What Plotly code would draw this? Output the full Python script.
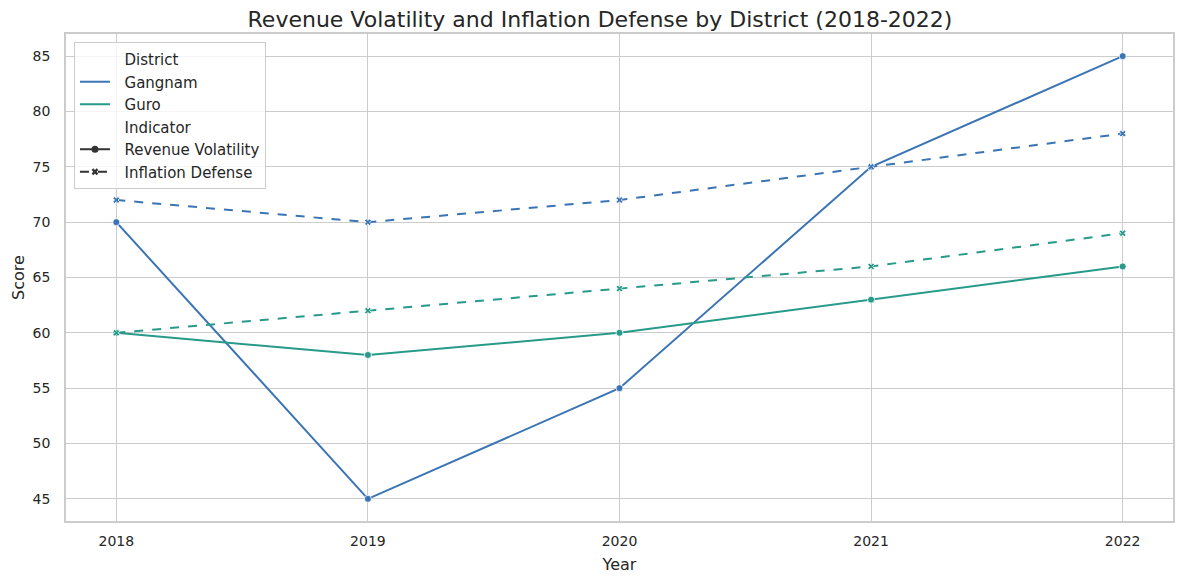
import plotly.graph_objects as go

years = [2018, 2019, 2020, 2021, 2022]
gangnam_volatility = [70, 45, 55, 75, 85]
gangnam_inflation = [72, 70, 72, 75, 78]
guro_volatility = [60, 58, 60, 63, 66]
guro_inflation = [60, 62, 64, 66, 69]

colors = {"Gangnam": "#3a74b4", "Guro": "#279a8a"}
FONT = "DejaVu Sans"

fig = go.Figure()

series = [
    ("Gangnam", "Revenue Volatility", gangnam_volatility),
    ("Gangnam", "Inflation Defense", gangnam_inflation),
    ("Guro", "Revenue Volatility", guro_volatility),
    ("Guro", "Inflation Defense", guro_inflation),
]
for district, ind, vals in series:
    solid = ind == "Revenue Volatility"
    fig.add_trace(go.Scatter(
        x=years, y=vals, mode="lines+markers", showlegend=False,
        line=dict(color=colors[district], width=2, dash="solid" if solid else "dash"),
        marker=dict(symbol="circle" if solid else "x",
                    size=7 if solid else 6, color=colors[district],
                    line=dict(color="white", width=0.8)),
        name=f"{district} {ind}",
    ))

PAD = "  "

def blank(name):
    fig.add_trace(go.Scatter(x=[None], y=[None], mode="lines", name=PAD + name,
                             line=dict(color="rgba(0,0,0,0)", width=0)))

blank("District")
for d in ["Gangnam", "Guro"]:
    fig.add_trace(go.Scatter(x=[None], y=[None], mode="lines", name=PAD + d,
                             line=dict(color=colors[d], width=2)))
blank("Indicator")
fig.add_trace(go.Scatter(x=[None], y=[None], mode="lines+markers", name=PAD + "Revenue Volatility",
                         line=dict(color="#333333", width=2),
                         marker=dict(symbol="circle", size=7, color="#333333")))
fig.add_trace(go.Scatter(x=[None], y=[None], mode="lines+markers", name=PAD + "Inflation Defense",
                         line=dict(color="#333333", width=2, dash="dash"),
                         marker=dict(symbol="x", size=6, color="#333333")))

axis_common = dict(showgrid=True, gridcolor="#cccccc", gridwidth=1.2,
                   showline=True, linecolor="#cccccc", linewidth=1.5, mirror=True,
                   zeroline=False, ticks="", automargin=False,
                   tickfont=dict(size=14, color="#262626"),
                   title_font=dict(size=16, color="#262626"))

fig.update_layout(
    width=1184, height=584,
    paper_bgcolor="white", plot_bgcolor="white",
    font=dict(family=FONT, color="#262626"),
    margin=dict(l=58, r=19, t=26, b=71),
    title=dict(text="Revenue Volatility and Inflation Defense by District (2018-2022)",
               x=0.5, xanchor="center", y=0.981, yanchor="middle", yref="container",
               font=dict(size=22, color="#262626")),
    xaxis=dict(range=[2017.8, 2022.2], tickvals=years, ticktext=[str(y) for y in years],
               ticklabelstandoff=6,
               title=dict(text="Year", standoff=11), **axis_common),
    yaxis=dict(range=[43, 87], tickvals=list(range(45, 90, 5)),
               ticklabelstandoff=11,
               title=dict(text="Score", standoff=4), **axis_common),
    legend=dict(x=0.0072, y=0.9836, xanchor="left", yanchor="top",
                bgcolor="rgba(255,255,255,0.8)", bordercolor="#cccccc", borderwidth=1,
                font=dict(size=15, color="#262626"), tracegroupgap=0,
                itemwidth=30),
)

fig.write_html("out.html")
